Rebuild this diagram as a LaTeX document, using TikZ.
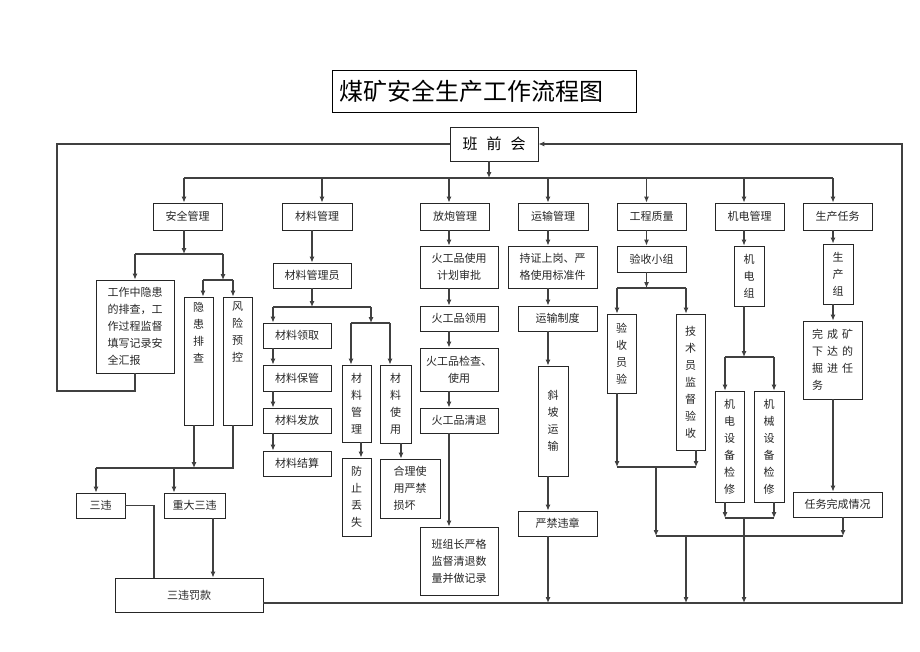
\documentclass[tikz,border=0pt]{standalone}
\usepackage{fontspec}
\usepackage{tikz}
\usetikzlibrary{arrows.meta}
\newfontfamily\cjk{Noto Sans CJK SC}
\newcommand\lbl{\cjk\fontsize{11}{17}\selectfont}
\newcommand\gap{\hspace{4pt}}
\begin{document}
\begin{tikzpicture}[x=1pt,y=-1pt]
  \tikzset{box/.style 2 args={draw=black!85,line width=.8pt,minimum width=#1pt,minimum height=#2pt,inner sep=1pt,align=center,font=\lbl,text=black!85}}
  \tikzset{cn/.style={draw=black!75,line width=1.1pt}}
  \tikzset{arr/.style={cn,-{Latex[length=6pt,width=5pt]}}}
  \useasboundingbox (0,0) rectangle (920,651);
  \node[draw,line width=1pt,minimum height=42pt,text width=290pt,inner sep=7pt,align=left,font=\cjk\fontsize{24}{28}\selectfont] (title) at (484,91.7) {煤矿安全生产工作流程图};
  \node[box={88}{34},font=\cjk\fontsize{15}{18}\selectfont,text=black] (bqh) at (494,144) {班\hspace{9pt}前\hspace{9pt}会};
  \node[box={69}{27}] (aqgl) at (187.5,216.5) {安全管理};
  \node[box={70}{27}] (clgl) at (317,216.5) {材料管理};
  \node[box={69}{27}] (fpgl) at (455,216.5) {放炮管理};
  \node[box={70}{27}] (ysgl) at (553,216.5) {运输管理};
  \node[box={69}{27}] (gczl) at (651.5,216.5) {工程质量};
  \node[box={69}{27}] (jdgl) at (749.5,216.5) {机电管理};
  \node[box={69}{27}] (scrw) at (837.5,216.5) {生产任务};
  \node[box={78}{93},align=left] (gzzh) at (135,326.5) {工作中隐患\\的排查，工\\作过程监督\\填写记录安\\全汇报};
  \node[box={29}{128}] (yhpc) at (198.5,361) {\parbox[c][118pt][t]{12pt}{\centering 隐\\患\\排\\查}};
  \node[box={29}{128}] (fxyk) at (237.5,361) {\parbox[c][118pt][t]{12pt}{\centering 风\\险\\预\\控}};
  \node[box={49}{25}] (sw) at (100.5,505.5) {三违};
  \node[box={61}{25}] (zdsw) at (194.5,505.5) {重大三违};
  \node[box={148}{34}] (swfk) at (189,595) {三违罚款};
  \node[box={78}{25}] (clgly) at (312,275.5) {材料管理员};
  \node[box={68}{25}] (cllq) at (297,335.5) {材料领取};
  \node[box={68}{26}] (clbg) at (297,378) {材料保管};
  \node[box={68}{25}] (clff) at (297,420.5) {材料发放};
  \node[box={68}{25}] (cljs) at (297,463.5) {材料结算};
  \node[box={29}{77}] (clglv) at (356.5,403.5) {材\\料\\管\\理};
  \node[box={31}{78}] (clsy) at (395.5,404) {材\\料\\使\\用};
  \node[box={29}{78}] (fzds) at (356.5,497) {防\\止\\丢\\失};
  \node[box={60}{59},align=left] (hlsy) at (410,488.5) {合理使\\用严禁\\损坏};
  \node[box={78}{42}] (hgp1) at (459,267) {火工品使用\\计划审批};
  \node[box={78}{25}] (hgp2) at (459,318.5) {火工品领用};
  \node[box={78}{43}] (hgp3) at (459,369.5) {火工品检查、\\使用};
  \node[box={78}{25}] (hgp4) at (459,420.5) {火工品清退};
  \node[box={78}{68},align=left] (bzz) at (459,561) {班组长严格\\监督清退数\\量并做记录};
  \node[box={89}{42}] (czsg) at (552.5,267) {持证上岗、严\\格使用标准件};
  \node[box={79}{25}] (yszd) at (557.5,318.5) {运输制度};
  \node[box={30}{110}] (xpys) at (553,421) {斜\\坡\\运\\输};
  \node[box={79}{25}] (yjwz) at (557.5,523.5) {严禁违章};
  \node[box={69}{26}] (yszb) at (651.5,259) {验收小组};
  \node[box={29}{79}] (yssy) at (621.5,353.5) {验\\收\\员\\验};
  \node[box={29}{136}] (jsy) at (690.5,382) {技\\术\\员\\监\\督\\验\\收};
  \node[box={30}{60}] (jdz) at (749,276) {机\\电\\组};
  \node[box={29}{111}] (jdsb) at (729.5,446.5) {机\\电\\设\\备\\检\\修};
  \node[box={30}{111}] (jxsb) at (769,446.5) {机\\械\\设\\备\\检\\修};
  \node[box={30}{60}] (scz) at (838,274) {生\\产\\组};
  \node[box={59}{78},align=left] (wck) at (832.5,360) {完\gap 成\gap 矿\\下\gap 达\gap 的\\掘\gap 进\gap 任\\务};
  \node[box={89}{25}] (rwwc) at (837.5,504.5) {任务完成情况};
  \coordinate (b0) at (489,178);
  \draw[arr] (b0 |- bqh.south) -- (b0);
  \foreach \n/\x in {aqgl/184,clgl/322,fpgl/449,ysgl/548,gczl/646.5,jdgl/744,scrw/833} {
    \coordinate (d\n) at (\x,178);
    \draw[arr] (d\n) -- (d\n |- \n.north);
  }
  \draw[cn] (daqgl) -- (dscrw);
  \coordinate (lc) at (57,391);
  \draw[cn] (gzzh.south) |- (lc) |- (bqh.west);
  \coordinate (rc) at (902,603);
  \draw[arr] ([yshift=-8pt]swfk.east) -- (rc) |- (bqh.east);
  \coordinate (aq1) at (184,254);
  \coordinate (aqL) at (135,254);
  \coordinate (aqR) at (223,254);
  \coordinate (fxL) at (203,280);
  \coordinate (fxR) at (233,280);
  \draw[arr] (aq1 |- aqgl.south) -- (aq1);
  \draw[cn] (aqL) -- (aqR);
  \draw[arr] (aqL) -- (gzzh.north);
  \draw[arr] (aqR) -- (aqR |- fxL);
  \draw[cn] (fxL) -- (fxR);
  \draw[arr] (fxL) -- (fxL |- yhpc.north);
  \draw[arr] (fxR) -- (fxR |- fxyk.north);
  \coordinate (yh1) at (194,468);
  \coordinate (fx2) at (233,468);
  \coordinate (sw0) at (96,468);
  \coordinate (sw1) at (174,468);
  \draw[arr] (yh1 |- yhpc.south) -- (yh1);
  \draw[cn] (fx2 |- fxyk.south) -- (fx2) -- (sw0);
  \draw[arr] (sw0) -- (sw0 |- sw.north);
  \draw[arr] (sw1) -- (sw1 |- zdsw.north);
  \coordinate (sw2) at (154,0);
  \coordinate (zd) at (213,0);
  \draw[cn] (sw.east) -| (sw2 |- swfk.north);
  \draw[arr] (zd |- zdsw.south) -- (zd |- swfk.north);
  \coordinate (cl1) at (312,0);
  \coordinate (clL) at (273,307);
  \coordinate (clR) at (371,307);
  \coordinate (cgL) at (351,323);
  \coordinate (cgR) at (390,323);
  \draw[arr] (cl1 |- clgl.south) -- (cl1 |- clgly.north);
  \draw[arr] (cl1 |- clgly.south) -- (cl1 |- clL);
  \draw[cn] (clL) -- (clR);
  \draw[arr] (clL) -- (clL |- cllq.north);
  \draw[arr] (clR) -- (clR |- cgL);
  \draw[cn] (cgL) -- (cgR);
  \draw[arr] (cgL) -- (cgL |- clglv.north);
  \draw[arr] (cgR) -- (cgR |- clsy.north);
  \foreach \a/\b in {cllq/clbg,clbg/clff,clff/cljs}
    \draw[arr] (clL |- \a.south) -- (clL |- \b.north);
  \coordinate (fz) at (361,0);
  \coordinate (hl) at (401,0);
  \draw[arr] (fz |- clglv.south) -- (fz |- fzds.north);
  \draw[arr] (hl |- clsy.south) -- (hl |- hlsy.north);
  \coordinate (fp) at (449,0);
  \foreach \a/\b in {fpgl/hgp1,hgp1/hgp2,hgp2/hgp3,hgp3/hgp4,hgp4/bzz}
    \draw[arr] (fp |- \a.south) -- (fp |- \b.north);
  \coordinate (ys) at (548,0);
  \foreach \a/\b in {ysgl/czsg,czsg/yszd,yszd/xpys,xpys/yjwz}
    \draw[arr] (ys |- \a.south) -- (ys |- \b.north);
  \draw[arr] (ys |- yjwz.south) -- (ys |- rc);
  \coordinate (gc) at (646.5,0);
  \coordinate (gcL) at (617,288);
  \coordinate (gcR) at (686,288);
  \draw[arr] (gc |- gczl.south) -- (gc |- yszb.north);
  \draw[arr] (gc |- yszb.south) -- (gc |- gcL);
  \draw[cn] (gcL) -- (gcR);
  \draw[arr] (gcL) -- (gcL |- yssy.north);
  \draw[arr] (gcR) -- (gcR |- jsy.north);
  \coordinate (ysL) at (617,467);
  \coordinate (ysR) at (696,467);
  \coordinate (ysM) at (656,467);
  \draw[arr] (ysL |- yssy.south) -- (ysL);
  \draw[arr] (ysR |- jsy.south) -- (ysR);
  \draw[cn] (ysL) -- (ysR);
  \coordinate (hz) at (656,536);
  \coordinate (hzR) at (843,536);
  \coordinate (hz1) at (686,536);
  \draw[arr] (ysM) -- (hz);
  \draw[arr] (hzR |- rwwc.south) -- (hzR);
  \draw[cn] (hz) -- (hzR);
  \draw[arr] (hz1) -- (hz1 |- rc);
  \coordinate (jd) at (744,0);
  \coordinate (jdL) at (725,357);
  \coordinate (jdR) at (774,357);
  \coordinate (jxL) at (725,518);
  \coordinate (jxR) at (774,518);
  \draw[arr] (jd |- jdgl.south) -- (jd |- jdz.north);
  \draw[arr] (jd |- jdz.south) -- (jd |- jdL);
  \draw[cn] (jdL) -- (jdR);
  \draw[arr] (jdL) -- (jdL |- jdsb.north);
  \draw[arr] (jdR) -- (jdR |- jxsb.north);
  \draw[arr] (jxL |- jdsb.south) -- (jxL);
  \draw[arr] (jxR |- jxsb.south) -- (jxR);
  \draw[cn] (jxL) -- (jxR);
  \draw[arr] (jd |- jxL) -- (jd |- rc);
  \coordinate (sc) at (833,0);
  \foreach \a/\b in {scrw/scz,scz/wck,wck/rwwc}
    \draw[arr] (sc |- \a.south) -- (sc |- \b.north);
\end{tikzpicture}
\end{document}
